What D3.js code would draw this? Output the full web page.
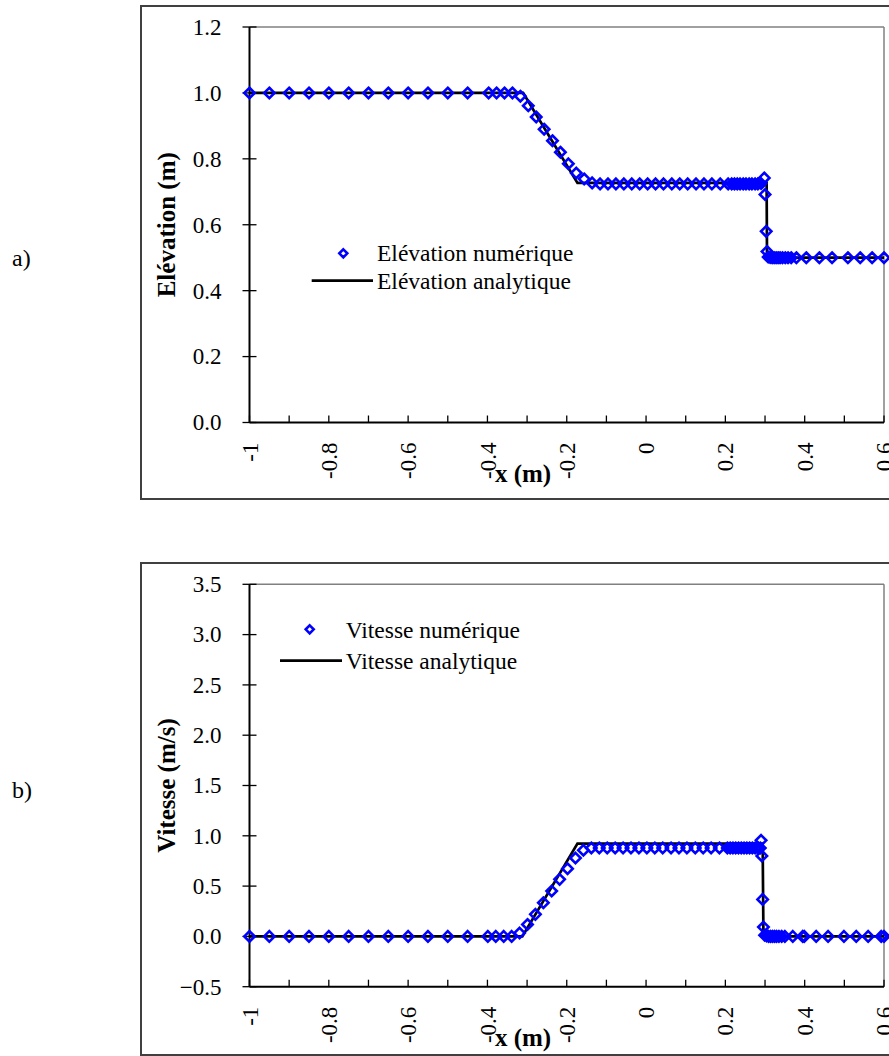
<!DOCTYPE html>
<html><head><meta charset="utf-8">
<script src="https://cdn.jsdelivr.net/npm/d3@7"></script>
<style>html,body{margin:0;padding:0;background:#fff;overflow:hidden}
svg text{font-family:"Liberation Serif","Times New Roman",Times,"Nimbus Roman","DejaVu Serif",serif;}</style>
</head><body>
<svg id="c" width="889" height="1056"></svg>
<script>
// ---- Data ----
const xTicks = [-1,-0.9,-0.8,-0.7,-0.6,-0.5,-0.4,-0.3,-0.2,-0.1,0,0.1,0.2,0.3,0.4,0.5,0.6];
const xTickLabels = ["-1","-0.8","-0.6","-0.4","-0.2","0","0.2","0.4","0.6"];
const xLabelValues = [-1,-0.8,-0.6,-0.4,-0.2,0,0.2,0.4,0.6];

const elevTicks = [0,0.2,0.4,0.6,0.8,1.0,1.2];
const velTicks = [-0.5,0,0.5,1.0,1.5,2.0,2.5,3.0,3.5];

// Elevation numerical
const elevNumX = [-1,-0.95,-0.9,-0.85,-0.8,-0.75,-0.7,-0.65,-0.6,-0.55,-0.5,-0.45,
  -0.397,-0.377,-0.357,-0.337,-0.317,-0.297,-0.277,-0.257,-0.236,-0.216,-0.196,-0.176,-0.156,-0.136,-0.116,
  -0.096,-0.076,-0.056,-0.036,-0.016,0.004,0.024,0.044,0.065,0.085,0.105,0.126,0.146,0.166,0.187,0.207,
  0.216,0.223,0.23,0.237,0.245,0.252,0.26,0.267,0.275,0.282,0.29,
  0.298,0.300,0.303,0.305,
  0.308,0.313,0.318,0.323,0.328,0.333,0.338,0.344,0.351,0.358,0.366,0.379,0.404,0.437,0.469,0.509,0.540,0.570,0.600];
const elevNumY = [1,1,1,1,1,1,1,1,1,1,1,1,
  1,1,1,1,0.99,0.961,0.927,0.890,0.855,0.820,0.785,0.757,0.739,0.727,0.724,
  0.724,0.724,0.724,0.724,0.724,0.724,0.724,0.724,0.724,0.724,0.724,0.724,0.724,0.724,0.724,0.724,
  0.724,0.724,0.724,0.724,0.724,0.724,0.724,0.724,0.724,0.724,0.725,
  0.742,0.692,0.580,0.519,
  0.502,0.501,0.5,0.5,0.5,0.5,0.5,0.5,0.5,0.5,0.5,0.5,0.5,0.5,0.5,0.5,0.5,0.5,0.5];
// Elevation analytical
const elevAnaX = [-1,-0.31,-0.24,-0.173,0.304,0.305,0.6];
const elevAnaY = [1,1,0.86,0.727,0.727,0.5,0.5];

// Velocity numerical
const velNumX = [-1,-0.95,-0.9,-0.85,-0.8,-0.75,-0.7,-0.65,-0.6,-0.55,-0.5,-0.45,
  -0.399,-0.379,-0.359,-0.339,-0.319,-0.299,-0.279,-0.259,-0.238,-0.218,-0.198,-0.178,-0.158,-0.138,-0.118,
  -0.098,-0.078,-0.058,-0.038,-0.018,0.002,0.022,0.042,0.063,0.083,0.103,0.124,0.144,0.164,0.185,0.205,
  0.212,0.219,0.226,0.233,0.24,0.247,0.254,0.261,0.268,0.275,0.282,0.288,
  0.290,0.292,0.294,0.296,
  0.299,0.304,0.309,0.314,0.319,0.324,0.329,0.335,0.342,0.350,0.370,0.395,0.399,0.429,0.459,0.499,0.530,0.560,0.593,0.600];
const velNumY = [0,0,0,0,0,0,0,0,0,0,0,0,
  0,0,0,0,0.033,0.119,0.219,0.335,0.451,0.567,0.673,0.779,0.856,0.879,0.879,
  0.879,0.879,0.879,0.879,0.879,0.879,0.879,0.879,0.879,0.879,0.879,0.879,0.879,0.879,0.879,0.879,
  0.879,0.879,0.879,0.879,0.879,0.879,0.879,0.879,0.879,0.879,0.879,0.879,
  0.955,0.80,0.368,0.093,
  0.012,0.005,0,0,0,0,0,0,0,0,0,0,0,0,0,0,0,0,0,0];
// Velocity analytical
const velAnaX = [-1,-0.312,-0.173,0.294,0.296,0.6];
const velAnaY = [0,0,0.922,0.922,0,0];

// ---- Drawing ----
const svg = d3.select("#c");
const FONT = "\"Liberation Serif\",\"Times New Roman\",Times,\"Nimbus Roman\",\"DejaVu Serif\",serif";

function panel(cfg){
  const g = svg.append("g");
  // outer frame
  g.append("rect").attr("x",141).attr("y",cfg.boxTop).attr("width",800).attr("height",cfg.boxH)
    .attr("fill","none").attr("stroke","#404040").attr("stroke-width",2);
  const x = d3.scaleLinear().domain([-1,0.6]).range([249.5,884]);
  const y = d3.scaleLinear().domain(cfg.yDomain).range([cfg.y0,cfg.y1]);
  // plot border (grey top/right)
  g.append("line").attr("x1",249.5).attr("x2",884).attr("y1",cfg.y1).attr("y2",cfg.y1)
    .attr("stroke","#808080").attr("stroke-width",1.5);
  g.append("line").attr("x1",884).attr("x2",884).attr("y1",cfg.y1).attr("y2",cfg.y0)
    .attr("stroke","#808080").attr("stroke-width",1.5);
  // y axis
  const ya = d3.axisLeft(y).tickValues(cfg.yTicks).tickFormat(d3.format(".1f")).tickSize(0).tickPadding(28);
  const yg = g.append("g").attr("transform","translate(249.5,0)").call(ya);
  yg.attr("font-family",null);
  yg.select(".domain").remove();
  yg.selectAll("text").style("font-family",FONT).attr("font-size",23).attr("fill","#000");
  g.selectAll(null).data(cfg.yTicks).enter().append("line")
    .attr("x1",242.5).attr("x2",256.5).attr("y1",d=>y(d)).attr("y2",d=>y(d))
    .attr("stroke","#000").attr("stroke-width",1.3);
  g.append("line").attr("x1",249.5).attr("x2",249.5).attr("y1",cfg.y1).attr("y2",cfg.y0)
    .attr("stroke","#000").attr("stroke-width",2);
  // x axis
  const xa = d3.axisBottom(x).tickValues(xTicks).tickSize(0).tickFormat("");
  const xg = g.append("g").attr("transform",`translate(0,${cfg.y0})`).call(xa);
  xg.select(".domain").remove();
  g.selectAll(null).data(xTicks).enter().append("line")
    .attr("x1",d=>x(d)).attr("x2",d=>x(d)).attr("y1",cfg.y0-7).attr("y2",cfg.y0)
    .attr("stroke","#000").attr("stroke-width",1.3);
  g.append("line").attr("x1",249.5).attr("x2",884).attr("y1",cfg.y0).attr("y2",cfg.y0)
    .attr("stroke","#000").attr("stroke-width",2);
  g.selectAll(null).data(xLabelValues).enter().append("text")
    .attr("transform",d=>`translate(${x(d)},${cfg.y0+20}) rotate(-90)`)
    .attr("text-anchor","end").attr("dy","0.35em")
    .style("font-family",FONT).attr("font-size",23).attr("fill","#000")
    .text((d,i)=>xTickLabels[i]);
  // titles
  g.append("text").attr("x",523).attr("y",cfg.y0+59).attr("text-anchor","middle")
    .style("font-family",FONT).attr("font-size",25).attr("font-weight","bold").text("x (m)");
  g.append("text").attr("transform",`translate(175,${(cfg.y0+cfg.y1)/2}) rotate(-90)`)
    .attr("text-anchor","middle").style("font-family",FONT).attr("font-size",25).attr("font-weight","bold")
    .text(cfg.yTitle);
  // panel label
  g.append("text").attr("x",12).attr("y",cfg.panelY).style("font-family",FONT).attr("font-size",24)
    .text(cfg.panel);
  // analytic line
  const line = d3.line().x(d=>x(d[0])).y(d=>y(d[1]));
  g.append("path").datum(cfg.anaX.map((v,i)=>[v,cfg.anaY[i]]))
    .attr("d",line).attr("fill","none").attr("stroke","#000").attr("stroke-width",2.7);
  // numerical markers
  const diamond = s => `M0,${-s}L${s},0L0,${s}L${-s},0Z`;
  g.selectAll(null).data(cfg.numX.map((v,i)=>[v,cfg.numY[i]])).enter().append("path")
    .attr("transform",d=>`translate(${x(d[0])},${y(d[1])})`)
    .attr("d",diamond(5.2)).attr("fill","none").attr("stroke","#0000ff").attr("stroke-width",2.6);
  // legend
  const L = cfg.legend;
  g.append("path").attr("transform",`translate(${L.mx},${L.my})`).attr("d",diamond(4))
    .attr("fill","none").attr("stroke","#0000ff").attr("stroke-width",2.6);
  g.append("text").attr("x",L.tx).attr("y",L.t1y).style("font-family",FONT).attr("font-size",23.5).text(L.t1);
  g.append("line").attr("x1",L.lx1).attr("x2",L.lx2).attr("y1",L.ly).attr("y2",L.ly)
    .attr("stroke","#000").attr("stroke-width",2.7);
  g.append("text").attr("x",L.tx).attr("y",L.t2y).style("font-family",FONT).attr("font-size",23.5).text(L.t2);
}

panel({boxTop:6, boxH:493, yDomain:[0,1.2], y0:422.5, y1:27, yTicks:elevTicks,
  yTitle:"Elévation (m)", panel:"a)", panelY:266,
  numX:elevNumX, numY:elevNumY, anaX:elevAnaX, anaY:elevAnaY,
  legend:{mx:343.3,my:253.3,tx:377,t1y:261,t1:"Elévation numérique",lx1:311.7,lx2:373,ly:280.7,t2y:288.5,t2:"Elévation analytique"}});

panel({boxTop:563, boxH:492, yDomain:[-0.5,3.5], y0:986.7, y1:584.3, yTicks:velTicks,
  yTitle:"Vitesse (m/s)", panel:"b)", panelY:798,
  numX:velNumX, numY:velNumY, anaX:velAnaX, anaY:velAnaY,
  legend:{mx:309.7,my:629.3,tx:345.7,t1y:637.5,t1:"Vitesse numérique",lx1:280,lx2:342,ly:660.7,t2y:669,t2:"Vitesse analytique"}});
</script>
</body></html>
